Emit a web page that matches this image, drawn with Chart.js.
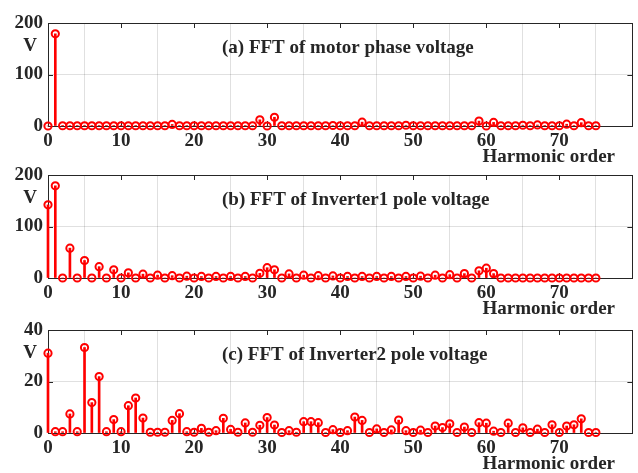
<!DOCTYPE html>
<html>
<head>
<meta charset="utf-8">
<script src="https://cdn.jsdelivr.net/npm/chart.js@4/dist/chart.umd.min.js"></script>
<style>
  html, body { margin: 0; padding: 0; background: #fff; }
  #wrap { position: relative; width: 638px; height: 473px; overflow: hidden; }
  .panel { position: absolute; left: 0; width: 638px; height: 170px; }
</style>
</head>
<body>
<div id="wrap">
  <div class="panel" style="top:1px"><canvas id="fftA"></canvas></div>
  <div class="panel" style="top:153px"><canvas id="fftB"></canvas></div>
  <div class="panel" style="top:308px"><canvas id="fftC"></canvas></div>
</div>
<script>
// harmonic order 0..75
const harmonics = [
  0, 1, 2, 3, 4, 5, 6, 7, 8, 9,
  10, 11, 12, 13, 14, 15, 16, 17, 18, 19,
  20, 21, 22, 23, 24, 25, 26, 27, 28, 29,
  30, 31, 32, 33, 34, 35, 36, 37, 38, 39,
  40, 41, 42, 43, 44, 45, 46, 47, 48, 49,
  50, 51, 52, 53, 54, 55, 56, 57, 58, 59,
  60, 61, 62, 63, 64, 65, 66, 67, 68, 69,
  70, 71, 72, 73, 74, 75
];

// (a) motor phase voltage, V
const motorPhaseV = [
  0, 179, 0.5, 0.5, 0.5, 0.5, 0.5, 0.5, 0.5, 0.5,
  0.5, 0.5, 0.5, 0.5, 0.5, 0.5, 0.5, 3, 0.5, 0.5,
  0.5, 0.5, 0.5, 0.5, 0.5, 0.5, 0.5, 0.5, 0.5, 12,
  0, 17, 0.5, 0.5, 0.5, 0.5, 0.5, 0.5, 0.5, 1,
  0.5, 0.5, 0.5, 7.5, 0.5, 0.5, 0.5, 0.5, 0.5, 1.5,
  0.5, 0.5, 0.5, 0.5, 0.5, 0.5, 0.5, 0.5, 0.5, 9.5,
  0, 7, 0.5, 0.5, 0.5, 1.5, 0.5, 2, 0.5, 0.5,
  0.5, 3.5, 0.5, 6.5, 0.5, 0.5
];

// (b) inverter1 pole voltage, V
const inv1PoleV = [
  142, 179, 0, 58, 0, 34, 0, 22, 0, 16,
  0, 10, 0, 7.5, 0, 5.5, 0, 4.5, 0, 3.5,
  0, 3, 0, 3, 0, 3, 0, 3, 0, 9,
  20, 16, 0, 8, 0, 5.5, 0, 4.5, 0, 4,
  0, 3, 0, 3, 0, 3, 0, 3, 0, 3,
  0, 3.5, 0, 5.5, 0, 6.5, 0, 8.5, 0, 14,
  19, 8.5, 0, 0, 0, 0, 0, 0, 0, 0,
  0, 0, 0, 0, 0, 0
];

// (c) inverter2 pole voltage, V
const inv2PoleV = [
  31, 0.5, 0.5, 7.4, 0.5, 33.2, 11.8, 21.9, 0.5, 5.2,
  0.5, 10.6, 13.6, 5.8, 0.3, 0.3, 0.3, 4.9, 7.5, 0.5,
  0.3, 1.8, 0.3, 0.9, 5.7, 1.4, 0.3, 3.9, 0.3, 3,
  6, 3.1, 0.2, 0.9, 0.3, 4.4, 4.4, 4, 0.2, 1.3,
  0.2, 0.9, 6.2, 4.9, 0.2, 1.6, 0.2, 1.2, 5, 0.9,
  0.2, 1.1, 0.2, 2.7, 2.1, 3.6, 0.2, 2.3, 0.2, 4,
  3.8, 0.7, 0.2, 3.8, 0.2, 2, 0.2, 1.5, 0.2, 3.2,
  0.2, 2.7, 3.2, 5.5, 0.2, 0.2
];

const panelTitles = [
  '(a) FFT of motor phase voltage',
  '(b) FFT of Inverter1 pole voltage',
  '(c) FFT of Inverter2 pole voltage'
];
const yMaxes = [200, 200, 40];
const ySteps = [100, 100, 20];

const INK = '#262626';
const RED = '#ff0000';
const FONT = 'Liberation Serif, Times New Roman, serif';

Chart.defaults.font.family = FONT;
Chart.defaults.font.weight = 'bold';
Chart.defaults.color = INK;

// box, inward ticks and the texts (MATLAB-like axes)
const axesDecor = {
  id: 'axesDecor',
  beforeDatasetsDraw(chart, args, opts) {
    const { ctx, chartArea: a, scales } = chart;
    ctx.save();
    ctx.strokeStyle = INK;
    ctx.lineWidth = 1;
    ctx.strokeRect(Math.round(a.left) + 0.5, Math.round(a.top) + 0.5,
      Math.round(a.right - a.left), Math.round(a.bottom - a.top));
    ctx.beginPath();
    scales.x.ticks.forEach(t => {
      const px = Math.round(scales.x.getPixelForValue(t.value)) + 0.5;
      ctx.moveTo(px, a.top); ctx.lineTo(px, a.top + 5);
      ctx.moveTo(px, a.bottom); ctx.lineTo(px, a.bottom - 5);
    });
    scales.y.ticks.forEach(t => {
      const py = Math.round(scales.y.getPixelForValue(t.value)) + 0.5;
      ctx.moveTo(a.left, py); ctx.lineTo(a.left + 5, py);
      ctx.moveTo(a.right, py); ctx.lineTo(a.right - 5, py);
    });
    ctx.stroke();
    ctx.restore();
  },
  afterDraw(chart, args, opts) {
    const { ctx, chartArea: a } = chart;
    ctx.save();
    ctx.fillStyle = INK;
    ctx.textBaseline = 'middle';
    ctx.font = 'bold 19px ' + FONT;
    ctx.textAlign = 'left';
    ctx.fillText(opts.title, 222, a.top + 25);
    ctx.textAlign = 'center';
    ctx.fillText('V', 30, a.top + 23);
    ctx.textAlign = 'right';
    ctx.fillText('Harmonic order', 615, a.bottom + 31.5);
    ctx.restore();
  }
};

function makePanel(id, values, idx) {
  const pts = harmonics.map((h, i) => ({ x: h, y: values[i] }));
  return new Chart(document.getElementById(id), {
    type: 'bar',
    data: {
      datasets: [
        {
          type: 'line',
          data: pts,
          showLine: false,
          pointRadius: 3.6,
          pointHoverRadius: 3.6,
          pointBorderWidth: 2,
          pointBorderColor: RED,
          pointBackgroundColor: 'rgba(0,0,0,0)',
          clip: false,
          order: 0
        },
        {
          type: 'bar',
          data: pts,
          backgroundColor: RED,
          barThickness: 2,
          clip: false,
          order: 1
        }
      ]
    },
    options: {
      responsive: true,
      maintainAspectRatio: false,
      animation: false,
      layout: { padding: { top: 22, right: 5, left: 0, bottom: 0 } },
      plugins: {
        legend: { display: false },
        tooltip: { enabled: false },
        axesDecor: { title: panelTitles[idx] }
      },
      scales: {
        x: {
          type: 'linear',
          min: 0,
          max: 80,
          offset: false,
          border: { display: false },
          grid: { color: 'rgba(0,0,0,0.12)', drawTicks: false },
          ticks: {
            stepSize: 10,
            padding: 4,
            maxRotation: 0,
            font: { size: 19, weight: 'bold' },
            callback: v => (v === 80 ? '' : v)
          },
          afterFit: s => { s.height = 45; }
        },
        y: {
          min: 0,
          max: yMaxes[idx],
          border: { display: false },
          grid: { color: 'rgba(0,0,0,0.12)', drawTicks: false },
          ticks: {
            stepSize: ySteps[idx],
            padding: 5,
            font: { size: 19, weight: 'bold' }
          },
          afterFit: s => { s.width = 48; }
        }
      }
    },
    plugins: [axesDecor]
  });
}

makePanel('fftA', motorPhaseV, 0);
makePanel('fftB', inv1PoleV, 1);
makePanel('fftC', inv2PoleV, 2);
</script>
</body>
</html>
